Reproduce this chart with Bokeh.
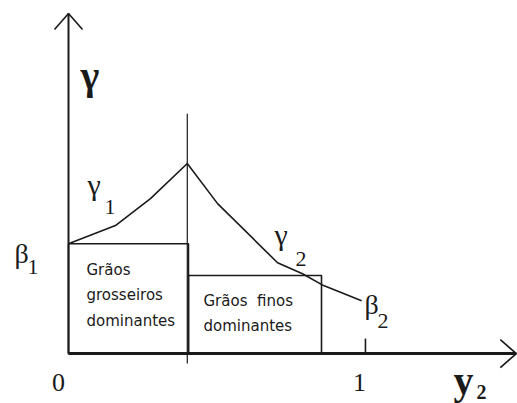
from bokeh.plotting import figure
from bokeh.models import Range1d
from bokeh.core.properties import value
from bokeh.embed import file_html
from bokeh.resources import INLINE

# Curves of the mixture model (x = y2, y = gamma)
gamma1_x = [0.0, 0.158, 0.276, 0.40]
gamma1_y = [0.370, 0.431, 0.522, 0.640]
gamma2_x = [0.40, 0.502, 0.704, 0.788, 0.859, 0.987]
gamma2_y = [0.640, 0.505, 0.306, 0.269, 0.229, 0.178]

# Regions: coarse-grain dominated and fine-grain dominated
split_x = 0.404
coarse_top = 0.370
fine_right = 0.852
fine_top = 0.263
peak_x = 0.40

# Axis extents
x_axis_end = 1.508
y_axis_end = 1.145
tick_labels = ["0", "1"]

W, H = 517, 403
x0, x1 = -0.229, 1.512
y0, y1 = -0.168, 1.189
sx = W / (x1 - x0)
sy = H / (y1 - y0)

p = figure(width=W, height=H, x_range=Range1d(x0, x1), y_range=Range1d(y0, y1),
           output_backend="svg", toolbar_location=None, min_border=0)
p.axis.visible = False
p.grid.visible = False
p.outline_line_color = None
p.background_fill_color = "white"

ink = "#1a1a1a"
serif = value("Liberation Serif")
sans = value("DejaVu Sans")

# Boxes
p.quad(left=[0.0], right=[split_x], bottom=[0.0], top=[coarse_top],
       fill_color=None, line_color=ink, line_width=1.6)
p.quad(left=[split_x], right=[fine_right], bottom=[0.0], top=[fine_top],
       fill_color=None, line_color=ink, line_width=1.6)

# Curves
p.line(gamma1_x, gamma1_y, line_color=ink, line_width=1.6)
p.line(gamma2_x, gamma2_y, line_color=ink, line_width=1.6)

# Vertical line through the peak
p.segment(x0=[peak_x], y0=[-10 / sy], x1=[peak_x], y1=[0.808], line_color=ink, line_width=1.2)

# Axes
p.segment(x0=[0.0], y0=[0.0], x1=[0.0], y1=[y_axis_end], line_color=ink, line_width=2)
p.segment(x0=[0.0], y0=[0.0], x1=[x_axis_end], y1=[0.0], line_color=ink, line_width=3)

# Open arrow heads (sizes in pixels)
hw, hl = 14, 16
p.multi_line(xs=[[-hw / sx, 0.0, hw / sx], [x_axis_end - hl / sx, x_axis_end, x_axis_end - hl / sx]],
             ys=[[y_axis_end - hl / sy, y_axis_end, y_axis_end - hl / sy], [hw / sy, 0.0, -hw / sy]],
             line_color=ink, line_width=1.6)

# Tick at 1
p.segment(x0=[1.0], y0=[0.0], x1=[1.0], y1=[15 / sy], line_color=ink, line_width=1.6)


def px(xp):
    return (xp - 68) / 297


def py(yp):
    return (353 - yp) / 297


def label(xp, yp, t, size, bold=False, font=serif, align="left", baseline="alphabetic"):
    p.text(x=[px(xp)], y=[py(yp)], text=[t], text_font=font, text_font_size=f"{size}px",
           text_font_style="bold" if bold else "normal", text_color=ink,
           text_align=align, text_baseline=baseline)


# Axis labels
label(80, 75, "γ", 40, bold=True)
label(453, 380, "y", 40, bold=True)
label(476, 391, "2", 20, bold=True)
label(58, 382, tick_labels[0], 26, align="center")
label(359, 382, tick_labels[1], 26, align="center")

# Curve labels
label(87, 184, "γ", 30)
label(104, 206, "1", 22)
label(274, 234, "γ", 30)
label(295, 258, "2", 22)
label(14, 253, "β", 28)
label(27, 266, "1", 22)
label(364, 304, "β", 28)
label(377, 320, "2", 22)

# Region texts
label(86, 269, "Grãos", 15, font=sans)
label(86, 294, "grosseiros", 15, font=sans)
label(86, 320, "dominantes", 15, font=sans)
label(203, 300, "Grãos\u00a0\u00a0finos", 15, font=sans)
label(203, 325, "dominantes", 15, font=sans)

open("out.html", "w").write(file_html(p, INLINE))
